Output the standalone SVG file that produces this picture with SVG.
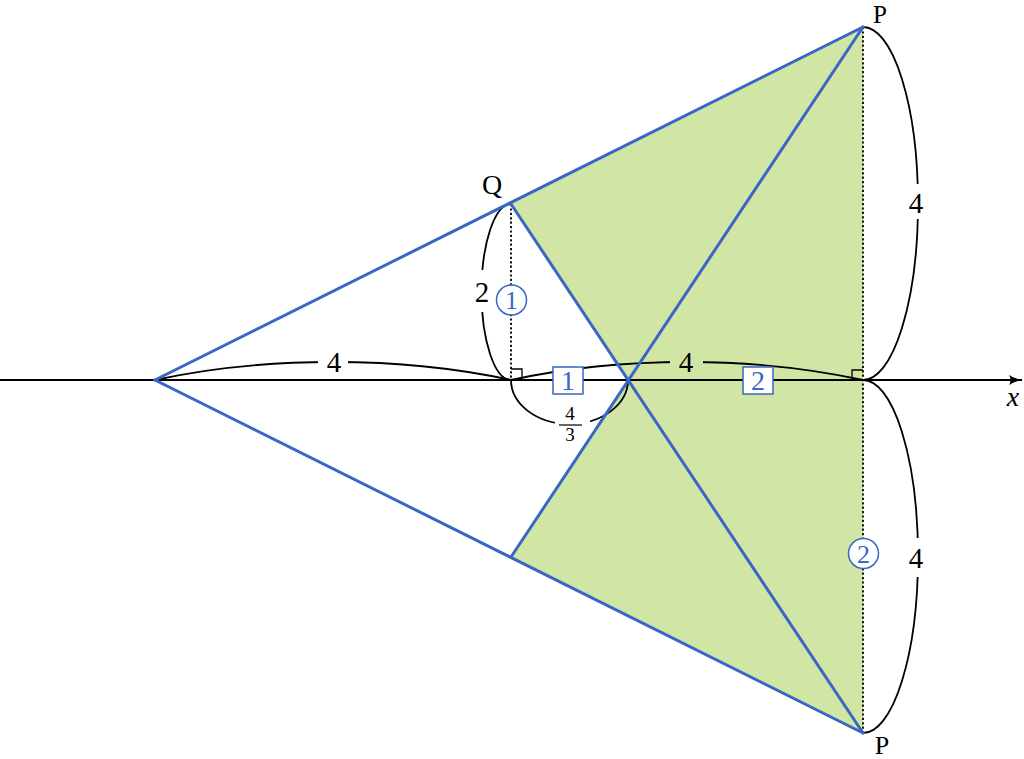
<svg xmlns="http://www.w3.org/2000/svg" width="1024" height="759" viewBox="0 0 1024 759">
<style>
.txt{font-family:"Liberation Serif","DejaVu Serif",serif;fill:#000;text-anchor:middle}
.blue{stroke:#3a66c4;stroke-width:3;fill:none;stroke-linecap:round}
.arc{stroke:#000;stroke-width:1.8;fill:none}
.dot{stroke:#000;stroke-width:1.8;stroke-dasharray:2.2 2.2;fill:none}
.bt{font-family:"Liberation Serif","DejaVu Serif",serif;fill:#3a66c4;text-anchor:middle}
.box{fill:#fff;stroke:#3a66c4;stroke-width:1.5}
</style>
<defs>
<marker id="arr" markerWidth="14" markerHeight="12" refX="13" refY="6" orient="auto" markerUnits="userSpaceOnUse">
<path d="M0,1 Q5,4.5 13,6 Q5,7.5 0,11 Q3,6 0,1 Z" fill="#000"/>
</marker>
<mask id="gaps" maskUnits="userSpaceOnUse" x="0" y="0" width="1024" height="759">
<rect x="0" y="0" width="1024" height="759" fill="#fff"/>
<rect x="318" y="345" width="30" height="30" fill="#000"/>
<rect x="670" y="345" width="33" height="30" fill="#000"/>
<rect x="465" y="270" width="35" height="42" fill="#000"/>
<rect x="895" y="184" width="45" height="35" fill="#000"/>
<rect x="895" y="538" width="45" height="39" fill="#000"/>
<rect x="555" y="398" width="35" height="48" fill="#000"/>
</mask>
</defs>
<rect width="1024" height="759" fill="#fff"/>
<g id="fill">
<polygon points="511,204 863,27 863,733 511,557 628,380" fill="#d1e6a4"/>
</g>
<g id="connectors">
<line class="dot" x1="511" y1="204" x2="511" y2="380"/>
<line class="dot" x1="863" y1="27" x2="863" y2="733"/>
<line x1="0" y1="380" x2="1022" y2="380" stroke="#000" stroke-width="1.8" marker-end="url(#arr)"/>
<path d="M511,369 H522 V380" stroke="#000" stroke-width="1.3" fill="none"/>
<path d="M852,380 V370 H863" stroke="#000" stroke-width="1.3" fill="none"/>
<g mask="url(#gaps)">
<path class="arc" d="M155,380 C265,356 401,356 511,380"/>
<path class="arc" d="M511,380 C621,356 753,356 863,380"/>
<path class="arc" d="M511,204 A29.5,88 0 0 0 511,380"/>
<path class="arc" d="M511,380 A58.5,44 0 0 0 628,380"/>
<path class="arc" d="M863,27 A55,176.5 0 0 1 863,380"/>
<path class="arc" d="M863,380 A55,176.5 0 0 1 863,733"/>
</g>
<line class="blue" x1="155" y1="380" x2="863" y2="27"/>
<line class="blue" x1="155" y1="380" x2="863" y2="733"/>
<line class="blue" x1="511" y1="204" x2="863" y2="733"/>
<line class="blue" x1="511" y1="557" x2="863" y2="27"/>
</g>
<g id="labels">
<text class="txt" x="880" y="23" font-size="25">P</text>
<text class="txt" x="492" y="194" font-size="28">Q</text>
<text class="txt" x="882" y="754" font-size="26">P</text>
<text class="txt" x="1013" y="406" font-size="28" font-style="italic">x</text>
<text class="txt" x="334" y="372" font-size="29">4</text>
<text class="txt" x="686" y="372" font-size="29">4</text>
<text class="txt" x="916" y="213" font-size="29">4</text>
<text class="txt" x="916" y="568" font-size="29">4</text>
<text class="txt" x="482" y="302" font-size="29">2</text>
<text class="txt" x="570" y="420" font-size="19">4</text>
<line x1="559" y1="425" x2="582" y2="425" stroke="#000" stroke-width="1.2"/>
<text class="txt" x="570" y="441" font-size="19">3</text>
</g>
<g id="box1">
<rect class="box" x="553" y="367" width="30" height="27"/>
<text class="bt" x="568" y="390" font-size="28">1</text>
</g>
<g id="box2">
<rect class="box" x="743" y="367" width="30" height="27"/>
<text class="bt" x="758" y="390" font-size="28">2</text>
</g>
<g id="circ1">
<circle cx="511.5" cy="300" r="15" fill="#fff" stroke="#3a66c4" stroke-width="1.5"/>
<text class="bt" x="511.5" y="309" font-size="26">1</text>
</g>
<g id="circ2">
<circle cx="863.5" cy="553.5" r="15" fill="#fff" stroke="#3a66c4" stroke-width="1.5"/>
<text class="bt" x="863.5" y="562.5" font-size="26">2</text>
</g>
</svg>
